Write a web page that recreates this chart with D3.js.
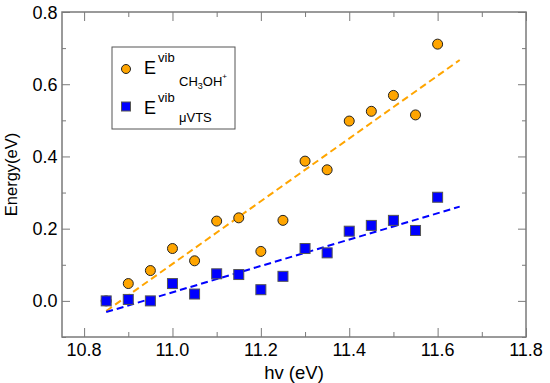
<!DOCTYPE html>
<html>
<head>
<meta charset="utf-8">
<script src="https://cdn.jsdelivr.net/npm/d3@7"></script>
<style>
  body { margin: 0; background: #fff; }
  svg { font-family: "Liberation Sans", Arial, Helvetica, sans-serif; }
</style>
</head>
<body>
<svg id="chart" width="550" height="383"></svg>
<script>
// ---- data ----
const hv = [10.85, 10.90, 10.95, 11.00, 11.05, 11.10, 11.15, 11.20, 11.25, 11.30, 11.35, 11.40, 11.45, 11.50, 11.55, 11.60];
const eCH3OH = [0.000, 0.048, 0.084, 0.145, 0.111, 0.221, 0.230, 0.137, 0.223, 0.387, 0.363, 0.498, 0.525, 0.569, 0.515, 0.711];
const eVTS   = [0.000, 0.004, 0.000, 0.048, 0.019, 0.075, 0.073, 0.031, 0.068, 0.145, 0.133, 0.193, 0.209, 0.223, 0.195, 0.287];
const fitX = [10.85, 11.65];
const fitCH3OH = [-0.028, 0.667];
const fitVTS = [-0.031, 0.261];
const xMajor = [10.8, 11.0, 11.2, 11.4, 11.6, 11.8];
const xMinor = [10.9, 11.1, 11.3, 11.5, 11.7];
const yMajor = [0.0, 0.2, 0.4, 0.6, 0.8];
const yMinor = [-0.1, 0.1, 0.3, 0.5, 0.7];

const orange = "#FFA500", blue = "#0000FF", frame = "#7a7a7a";
const L = 62, R = 526, T = 12, B = 337;

const svg = d3.select("#chart");
const x = d3.scaleLinear().domain([10.75, 11.8]).range([L, R]);
const y = d3.scaleLinear().domain([-0.1, 0.8]).range([B, T]);

// ticks (inside, all four sides)
function tickAxis(gen, tr, vals, len) {
  svg.append("g").attr("transform", tr)
    .call(gen.tickValues(vals).tickSize(len).tickFormat(""))
    .call(g => g.select(".domain").remove())
    .call(g => g.selectAll("line").attr("stroke", frame).attr("stroke-width", 1));
}
tickAxis(d3.axisTop(x), `translate(0,${B})`, xMajor, 9);
tickAxis(d3.axisTop(x), `translate(0,${B})`, xMinor, 5);
tickAxis(d3.axisBottom(x), `translate(0,${T})`, xMajor, 9);
tickAxis(d3.axisBottom(x), `translate(0,${T})`, xMinor, 5);
tickAxis(d3.axisRight(y), `translate(${L},0)`, yMajor, 8);
tickAxis(d3.axisRight(y), `translate(${L},0)`, yMinor, 4);
tickAxis(d3.axisLeft(y), `translate(${R},0)`, yMajor, 8);
tickAxis(d3.axisLeft(y), `translate(${R},0)`, yMinor, 4);

// tick labels
svg.append("g").selectAll("text").data(xMajor).join("text")
  .attr("x", d => x(d)).attr("y", 356).attr("text-anchor", "middle")
  .attr("font-size", 18).attr("fill", "#000").text(d => d.toFixed(1));
svg.append("g").selectAll("text").data(yMajor).join("text")
  .attr("x", 57.5).attr("y", d => y(d) + 6.5).attr("text-anchor", "end")
  .attr("font-size", 18).attr("fill", "#000").text(d => d.toFixed(1));

// axis titles
svg.append("text").attr("x", (L + R) / 2).attr("y", 379).attr("text-anchor", "middle")
  .attr("font-size", 18.5).text("hv (eV)");
svg.append("text").attr("transform", `translate(17,${(T + B) / 2}) rotate(-90)`)
  .attr("text-anchor", "middle").attr("font-size", 16.5).text("Energy(eV)");

// fit lines
const line = d3.line().x(d => x(d[0])).y(d => y(d[1]));
svg.append("path").datum(fitX.map((v, i) => [v, fitCH3OH[i]])).attr("d", line)
  .attr("fill", "none").attr("stroke", orange).attr("stroke-width", 2).attr("stroke-dasharray", "7,4");
svg.append("path").datum(fitX.map((v, i) => [v, fitVTS[i]])).attr("d", line)
  .attr("fill", "none").attr("stroke", blue).attr("stroke-width", 2).attr("stroke-dasharray", "7,4");

// markers
svg.append("g").selectAll("circle").data(hv).join("circle")
  .attr("cx", d => x(d)).attr("cy", (d, i) => y(eCH3OH[i])).attr("r", 5)
  .attr("fill", orange).attr("stroke", "#222").attr("stroke-width", 1);
svg.append("g").selectAll("rect").data(hv).join("rect")
  .attr("x", d => x(d) - 5).attr("y", (d, i) => y(eVTS[i]) - 5).attr("width", 10).attr("height", 10)
  .attr("fill", blue).attr("stroke", "#555").attr("stroke-width", 1);

// frame
svg.append("rect").attr("x", L).attr("y", T).attr("width", R - L).attr("height", B - T)
  .attr("fill", "none").attr("stroke", frame).attr("stroke-width", 1.5);

// legend
svg.append("rect").attr("x", 112).attr("y", 47).attr("width", 123).attr("height", 82)
  .attr("fill", "#fff").attr("stroke", "#555").attr("stroke-width", 1);
svg.append("circle").attr("cx", 126).attr("cy", 69).attr("r", 4.5)
  .attr("fill", orange).attr("stroke", "#222").attr("stroke-width", 1);
svg.append("rect").attr("x", 121.5).attr("y", 102).attr("width", 9).attr("height", 9)
  .attr("fill", blue).attr("stroke", "#555").attr("stroke-width", 1);

function legendLabel(yE, yVib, ySub, parts) {
  svg.append("text").attr("x", 144).attr("y", yE).attr("font-size", 18).text("E");
  svg.append("text").attr("x", 158).attr("y", yVib).attr("font-size", 13).text("vib");
  const t = svg.append("text").attr("x", 179).attr("y", ySub).attr("font-size", 13);
  parts.forEach(p => {
    t.append("tspan").attr("font-size", p.size).attr("dy", p.dy).text(p.t);
  });
}
legendLabel(73.5, 62, 86, [
  { t: "CH", size: 13, dy: 0 },
  { t: "3", size: 9, dy: 3 },
  { t: "OH", size: 13, dy: -3 },
  { t: "+", size: 8, dy: -7 }
]);
legendLabel(113.5, 101.5, 122, [
  { t: "\u03BCVTS", size: 13, dy: 0 }
]);
</script>
</body>
</html>
